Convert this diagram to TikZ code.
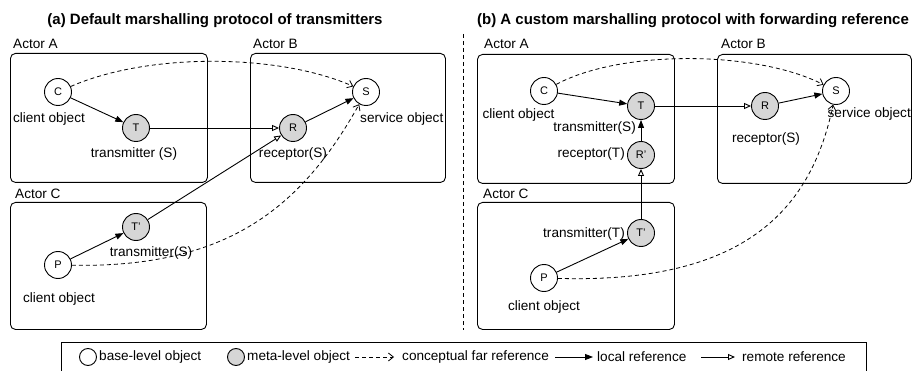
\documentclass[tikz,border=0pt]{standalone}
\usepackage{fontspec}
\setmainfont{Liberation Sans}
\usetikzlibrary{arrows.meta}
\definecolor{metagray}{RGB}{214,214,214}

\begin{document}
\begin{tikzpicture}[x=1pt,y=-1pt,
  base/.style={circle,draw,line width=0.9pt,minimum size=27pt,inner sep=0pt,fill=white,font=\fontsize{11}{13}\selectfont},
  meta/.style={base,fill=metagray},
  actor/.style={draw,line width=0.9pt,rounded corners=5pt,anchor=north west,inner sep=0pt},
  lbl/.style={font=\fontsize{13.6}{16}\selectfont,inner sep=0pt},
  heading/.style={font=\fontsize{15}{18}\selectfont\bfseries,inner sep=0pt},
  localref/.style={draw,line width=0.9pt,-{Triangle[length=8pt,width=6pt]}},
  remoteref/.style={draw,line width=0.9pt,-{Triangle[open,length=7pt,width=6pt]}},
  farref/.style={draw,line width=0.8pt,dash pattern=on 4pt off 3pt,-{Straight Barb[length=5pt,width=8pt]}},
  legcirc/.style={circle,draw,line width=0.9pt,minimum size=17pt,inner sep=0pt},
]
\useasboundingbox (0,0) rectangle (912,371);

% ---------- headings and divider ----------
\node[heading,anchor=base] (ha) at (215,25) {(a) Default marshalling protocol of transmitters};
\node[heading,anchor=base] (hb) at (693,25) {(b) A custom marshalling protocol with forwarding reference};
\coordinate (divtop) at (463,34);
\coordinate (divbot) at (463,330);
\draw[line width=0.8pt,dash pattern=on 4pt off 3pt] (divtop) -- (divbot);

% ---------- (a) actors ----------
\node[actor,minimum width=197pt,minimum height=129pt] (aA) at (10,53) {};
\node[actor,minimum width=195pt,minimum height=129pt] (aB) at (250,53) {};
\node[actor,minimum width=196pt,minimum height=127pt] (aC) at (10,202) {};
\node[lbl,anchor=base west] (aAl) at (13,49) {Actor A};
\node[lbl,anchor=base west] (aBl) at (253,49) {Actor B};
\node[lbl,anchor=base west] (aCl) at (15,199) {Actor C};

% ---------- (a) objects ----------
\node[base] (aC1) at (58,92) {C};
\node[meta] (aT) at (136,128) {T};
\node[meta] (aR) at (293,128) {R};
\node[base] (aS) at (366,92) {S};
\node[meta] (aT2) at (136,227) {T'};
\node[base] (aP) at (58,265) {P};

\node[lbl,anchor=base] (aCt) at (49,123) {client object};
\node[lbl,anchor=base] (aTt) at (134,158) {transmitter (S)};
\node[lbl,anchor=base] (aRt) at (293,158) {receptor(S)};
\node[lbl,anchor=base west] (aSt) at (360,123) {service object};
\node[lbl,anchor=base] (aT2t) at (151,256) {transmitter(S)};
\node[lbl,anchor=base] (aPt) at (59,302) {client object};

% ---------- (a) references ----------
\draw[farref] (aC1) .. controls (150,52) and (280,54) .. (aS);
\draw[localref] (aC1) -- (aT);
\draw[remoteref] (aT) -- (aR);
\draw[localref] (aR) -- (aS);
\draw[remoteref] (aT2) -- (aR);
\draw[localref] (aP) -- (aT2);
\draw[farref] (aP) .. controls (225,268) and (300,210) .. (aS);

% ---------- (b) actors ----------
\node[actor,minimum width=197pt,minimum height=129pt] (bA) at (477,54) {};
\node[actor,minimum width=194pt,minimum height=129pt] (bB) at (717,54) {};
\node[actor,minimum width=197pt,minimum height=127pt] (bC) at (477,202) {};
\node[lbl,anchor=base west] (bAl) at (484,49) {Actor A};
\node[lbl,anchor=base west] (bBl) at (721,49) {Actor B};
\node[lbl,anchor=base west] (bCl) at (483,199) {Actor C};

% ---------- (b) objects ----------
\node[base] (bC1) at (544,91) {C};
\node[meta] (bT) at (641,106) {T};
\node[meta] (bR) at (765,106) {R};
\node[base] (bS) at (836,91) {S};
\node[meta] (bR2) at (641,155) {R'};
\node[meta] (bT2) at (641,233) {T'};
\node[base] (bP) at (544,278) {P};

\node[lbl,anchor=base] (bCt) at (518.5,119) {client object};
\node[lbl,anchor=base east] (bTt) at (636,132) {transmitter(S)};
\node[lbl,anchor=base] (bRt) at (766,143) {receptor(S)};
\node[lbl,anchor=base east] (bSt) at (911,118) {service object};
\node[lbl,anchor=base east] (bR2t) at (625,158) {receptor(T)};
\node[lbl,anchor=base east] (bT2t) at (625,237) {transmitter(T)};
\node[lbl,anchor=base] (bPt) at (544,310) {client object};

% ---------- (b) references ----------
\draw[farref] (bC1) .. controls (620,50) and (755,50) .. (bS);
\draw[localref] (bC1) -- (bT);
\draw[remoteref] (bT) -- (bR);
\draw[localref] (bR) -- (bS);
\draw[localref] (bR2) -- (bT);
\draw[remoteref] (bT2) -- (bR2);
\draw[localref] (bP) -- (bT2);
\draw[farref] (bP) .. controls (750,284) and (812,205) .. (bS);

% ---------- legend ----------
\node[draw,line width=0.9pt,anchor=north west,minimum width=805pt,minimum height=32pt,inner sep=0pt] (leg) at (61,342) {};
\node[legcirc,fill=white] (lgb) at (88,357) {};
\node[lbl,anchor=west] (lgbt) at (99,357) {base-level object};
\node[legcirc,fill=metagray] (lgm) at (236,357) {};
\node[lbl,anchor=west] (lgmt) at (247,357) {meta-level object};
\coordinate (lf1) at (355,357);
\coordinate (lf2) at (394,357);
\draw[farref] (lf1) -- (lf2);
\node[lbl,anchor=west] (lgft) at (402,357) {conceptual far reference};
\coordinate (ll1) at (555,357);
\coordinate (ll2) at (593,357);
\draw[localref] (ll1) -- (ll2);
\node[lbl,anchor=west] (lglt) at (597,357) {local reference};
\coordinate (lr1) at (701,357);
\coordinate (lr2) at (735,357);
\draw[remoteref] (lr1) -- (lr2);
\node[lbl,anchor=west] (lgrt) at (742,357) {remote reference};
\end{tikzpicture}
\end{document}
